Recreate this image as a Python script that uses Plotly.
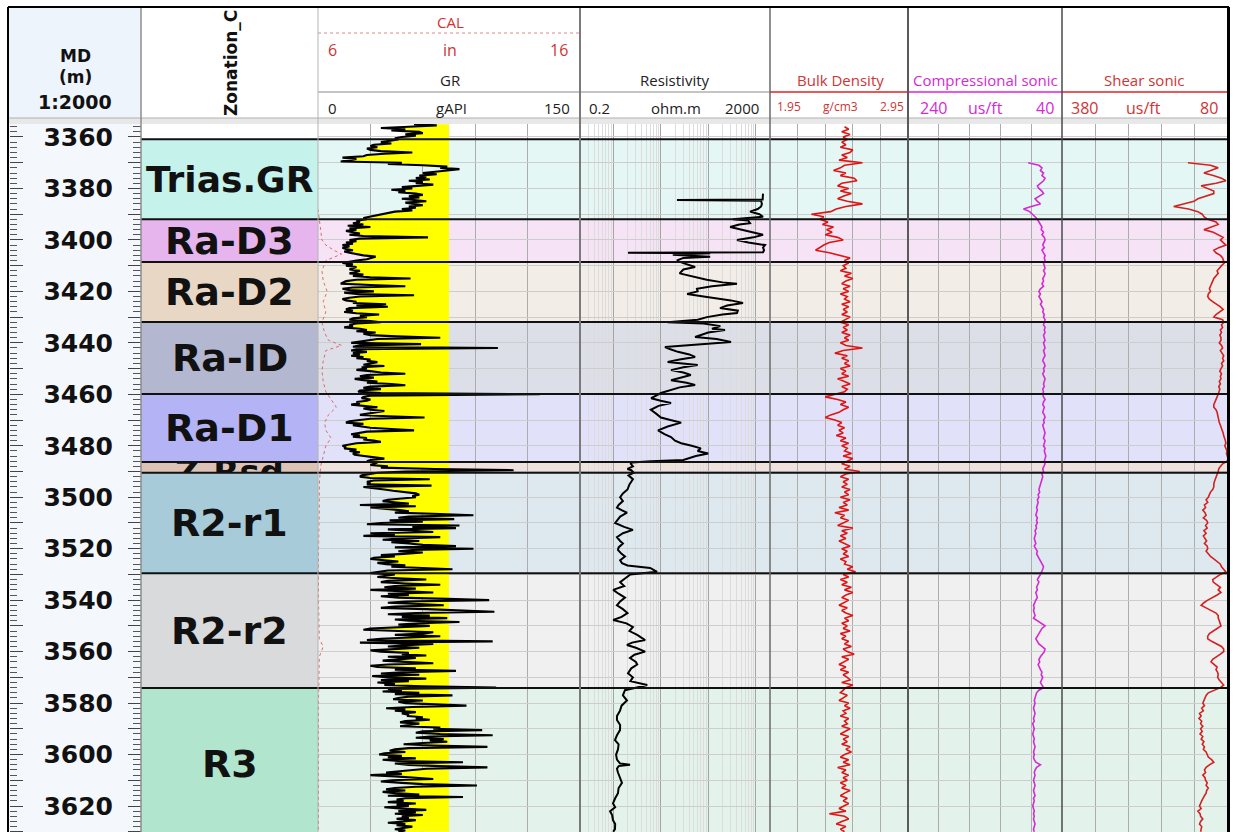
import numpy as np
import plotly.graph_objects as go

W, H = 1239, 832
def px(x): return x / W
def py(y): return 1 - y / H

# ---------------- data ----------------
DEPTH_TICKS = [3360, 3370, 3380, 3390, 3400, 3410, 3420, 3430, 3440, 3450, 3460, 3470, 3480, 3490,
               3500, 3510, 3520, 3530, 3540, 3550, 3560, 3570, 3580, 3590, 3600, 3610, 3620, 3630]
DEPTH_LABELS = ["3360", "", "3380", "", "3400", "", "3420", "", "3440", "", "3460", "", "3480", "",
                "3500", "", "3520", "", "3540", "", "3560", "", "3580", "", "3600", "", "3620", ""]

ZONE_NAMES = ["Trias.GR", "Ra-D3", "Ra-D2", "Ra-ID", "Ra-D1", "Z-Rsd", "R2-r1", "R2-r2", "R3"]
ZONE_TOPS = [3360.9, 3392.0, 3408.6, 3431.9, 3459.9, 3486.3, 3490.5, 3529.5, 3574.1]
ZONE_BASES = [3392.0, 3408.6, 3431.9, 3459.9, 3486.3, 3490.5, 3529.5, 3574.1, 3633.0]
ZONE_COLORS = ["#c6f2ec", "#e6b5ee", "#e9d7c5", "#b3b7cf", "#b3b3f5", "#ddc3b6", "#a7cbd9", "#d8dadc", "#b1e5cd"]
ZONE_TINTS = ["#e5f7f5", "#f6e3f6", "#f3ede7", "#dcdfe8", "#e1e1fa", "#efe2dc", "#dde9ef", "#f0f0f0", "#e3f3ec"]

GR_START, GR_STEP = 3355.0, 0.5
GR = [
    55, 68, 52, 36, 50, 42, 58, 60, 50, 56,
    48, 44, 46, 40, 36, 42, 32, 30, 34, 28,
    30, 36, 54, 38, 28, 26, 14, 22, 16, 13,
    48, 40, 60, 74, 70, 81, 74, 66, 60, 68,
    58, 62, 56, 64, 52, 60, 56, 66, 58, 48,
    54, 42, 50, 46, 56, 60, 52, 58, 48, 54,
    62, 50, 57, 60, 52, 56, 48, 54, 44, 40,
    36, 34, 30, 26, 28, 22, 24, 20, 26, 17,
    30, 18, 22, 16, 20, 24, 18, 26, 63, 24,
    18, 22, 16, 20, 14, 18, 14, 16, 20, 15,
    18, 22, 26, 33, 30, 28, 22, 18, 14, 20,
    16, 22, 20, 18, 24, 22, 18, 26, 20, 30,
    53, 22, 16, 14, 13, 30, 50, 20, 14, 18,
    32, 15, 22, 55, 24, 18, 14, 16, 22, 20,
    39, 22, 40, 18, 16, 20, 15, 22, 35, 24,
    28, 20, 18, 30, 36, 22, 18, 20, 15, 24,
    28, 22, 33, 26, 30, 45, 70, 34, 28, 22,
    19, 59, 24, 20, 103, 22, 19, 28, 20, 24,
    19, 26, 22, 30, 28, 34, 30, 26, 38, 25,
    28, 22, 30, 36, 50, 28, 24, 32, 21, 26,
    34, 28, 42, 50, 30, 26, 36, 24, 23, 36,
    127, 30, 26, 25, 30, 28, 22, 24, 19, 28,
    34, 26, 30, 38, 34, 28, 24, 40, 61, 30,
    22, 18, 16, 26, 20, 24, 30, 42, 55, 28,
    22, 19, 24, 20, 28, 26, 32, 36, 22, 18,
    14, 16, 15, 22, 18, 24, 20, 21, 28, 34,
    38, 30, 28, 34, 32, 30, 40, 36, 67, 112,
    50, 34, 30, 25, 24, 30, 64, 32, 28, 30,
    28, 65, 26, 34, 38, 43, 50, 56, 58, 54,
    56, 48, 40, 37, 44, 52, 24, 56, 30, 40,
    47, 52, 44, 70, 89, 52, 46, 78, 41, 60,
    36, 28, 81, 54, 79, 40, 58, 66, 30, 44,
    26, 70, 48, 37, 58, 42, 52, 60, 79, 44,
    89, 54, 46, 60, 49, 36, 44, 32, 30, 38,
    46, 34, 39, 50, 42, 60, 77, 40, 34, 30,
    44, 38, 34, 46, 62, 40, 36, 50, 70, 44,
    38, 56, 30, 48, 66, 40, 52, 36, 46, 74,
    98, 50, 40, 58, 72, 44, 36, 62, 80, 101,
    56, 40, 64, 48, 74, 44, 52, 81, 58, 46,
    64, 40, 30, 26, 48, 66, 60, 44, 70, 52,
    36, 28, 100, 24, 66, 50, 40, 58, 44, 30,
    36, 52, 48, 62, 40, 56, 46, 37, 50, 66,
    40, 30, 34, 56, 44, 79, 48, 36, 58, 31,
    40, 62, 36, 52, 34, 44, 38, 60, 102, 40,
    48, 37, 58, 44, 77, 52, 46, 43, 60, 46,
    50, 70, 85, 54, 39, 50, 44, 56, 48, 52,
    51, 60, 56, 64, 50, 47, 58, 52, 47, 70,
    66, 94, 60, 56, 70, 100, 64, 56, 72, 64,
    74, 60, 49, 66, 97, 52, 44, 41, 50, 38,
    35, 48, 40, 56, 37, 46, 83, 44, 52, 70,
    97, 62, 53, 44, 39, 48, 30, 44, 53, 66,
    42, 36, 48, 60, 91, 56, 44, 39, 50, 37,
    44, 58, 40, 83, 50, 45, 49, 40, 56, 45,
    52, 38, 48, 62, 46, 56, 44, 60, 48, 52,
    45, 56, 49, 40, 50, 45, 54, 48, 44, 50,
    46,
]
GR_CUTOFF = 75

CAL_DEPTH = [3388, 3392, 3396, 3400, 3402, 3404, 3405.5, 3408, 3412, 3416, 3420, 3424, 3428, 3432,
             3436, 3439, 3441, 3443, 3447, 3451, 3455, 3459, 3462, 3465, 3468, 3471, 3474, 3477,
             3480, 3484, 3488, 3495, 3505, 3520, 3540, 3555, 3558, 3562, 3580, 3600, 3630]
CAL = [6.0, 6.05, 6.1, 6.15, 6.3, 6.6, 6.9, 6.3, 6.15, 6.2, 6.35, 6.2, 6.3, 6.15,
       6.25, 6.4, 6.9, 6.3, 6.2, 6.15, 6.2, 6.3, 6.5, 6.7, 6.4, 6.25, 6.3, 6.5,
       6.3, 6.2, 6.1, 6.05, 6.05, 6.02, 6.02, 6.05, 6.2, 6.05, 6.02, 6.02, 6.02]

RES_DEPTH = [3382.0, 3383.0, 3384.3, 3384.5, 3384.8, 3386.0, 3387.0, 3388.0, 3389.0, 3390.0, 3391.0, 3392.0,
             3392.5, 3393.5, 3394.0, 3395.0, 3396.0, 3397.0, 3398.0, 3399.0, 3400.0, 3401.0, 3402.0, 3403.0,
             3404.0, 3404.8, 3405.0, 3405.2, 3405.8, 3406.5, 3407.0, 3408.0, 3409.0, 3410.5, 3411.5, 3413.0,
             3414.0, 3415.5, 3416.5, 3417.0, 3418.0, 3419.0, 3420.0, 3421.0, 3422.0, 3422.5, 3423.5, 3424.5,
             3425.5, 3426.5, 3427.5, 3428.4, 3429.0, 3430.0, 3431.0, 3432.0, 3432.5, 3433.5, 3434.5, 3435.0,
             3436.0, 3437.7, 3438.5, 3439.7, 3440.5, 3441.6, 3442.5, 3443.5, 3444.5, 3445.5, 3446.5, 3447.4,
             3448.6, 3449.5, 3450.6, 3451.5, 3452.5, 3453.5, 3454.5, 3455.5, 3456.4, 3457.3, 3458.3, 3459.5,
             3460.5, 3461.5, 3462.5, 3463.4, 3464.5, 3466.0, 3467.5, 3469.0, 3470.0, 3471.0, 3472.5, 3474.0,
             3475.5, 3476.6, 3478.0, 3479.0, 3480.0, 3481.0, 3482.0, 3483.0, 3484.0, 3484.8, 3485.5, 3486.0,
             3486.5, 3487.0, 3488.0, 3489.0, 3489.5, 3490.5, 3491.5, 3493.0, 3495.0, 3497.0, 3498.5, 3500.0,
             3501.5, 3503.0, 3504.0, 3505.0, 3506.0, 3507.5, 3509.0, 3510.0, 3511.5, 3512.7, 3514.0, 3515.5,
             3517.0, 3518.0, 3519.5, 3520.5, 3522.0, 3523.0, 3524.5, 3525.6, 3526.5, 3527.5, 3529.0, 3529.5,
             3530.0, 3531.5, 3533.0, 3534.5, 3536.0, 3537.5, 3539.0, 3540.5, 3542.0, 3543.5, 3545.0, 3546.5,
             3547.7, 3549.0, 3550.4, 3552.0, 3553.5, 3555.5, 3556.5, 3557.4, 3558.5, 3560.0, 3561.2, 3562.5,
             3564.0, 3565.0, 3566.5, 3568.4, 3570.0, 3571.5, 3573.0, 3574.0, 3575.0, 3577.0, 3579.0, 3581.0,
             3583.0, 3585.0, 3586.6, 3588.5, 3590.5, 3592.5, 3594.4, 3596.0, 3598.0, 3600.0, 3602.0, 3603.5,
             3604.0, 3604.5, 3605.5, 3607.0, 3609.0, 3611.0, 3613.0, 3615.0, 3617.0, 3619.0, 3620.5, 3622.0,
             3623.5, 3625.5, 3627.0, 3629.0, 3630.0]
RES = [1425, 1400, 1400, 22, 1300, 1350, 1300, 1100, 760, 1200, 1425, 330,
       700, 760, 450, 290, 500, 760, 1425, 900, 404, 700, 1571, 1425,
       1500, 1425, 2.05, 110, 18, 110, 30, 22, 30, 53, 30, 25,
       45, 93, 200, 404, 120, 58, 60, 36, 80, 126, 300, 540,
       250, 177, 420, 404, 200, 94, 60, 14, 80, 180, 120, 226,
       100, 53, 150, 302, 80, 12.3, 16, 23, 40, 53, 25, 14,
       60, 30, 16.5, 30, 43, 25, 16.5, 35, 53, 25, 16.5, 10.1,
       8, 6.3, 10, 16.5, 9, 6.2, 8, 10.1, 16, 27, 14, 8.8,
       12, 16.5, 20, 27, 45, 70, 60, 100, 55, 37.5, 30, 6.2,
       2.5, 2.35, 2.6, 2.0, 2.4, 2.7, 2.1, 2.6, 2.2, 2.0, 1.6, 1.4,
       1.6, 1.3, 1.2, 1.5, 1.95, 1.4, 1.2, 1.1, 1.7, 2.6, 1.6, 1.2,
       1.4, 1.6, 1.3, 1.26, 1.5, 1.77, 1.4, 1.53, 2.0, 6.0, 8.4, 4.0,
       2.3, 1.8, 1.4, 1.7, 1.0, 1.3, 1.77, 1.4, 1.2, 1.6, 2.0, 1.5,
       1.0, 1.9, 2.6, 2.2, 3.2, 4.7, 2.5, 1.95, 3.0, 4.7, 2.8, 2.26,
       3.0, 3.2, 2.4, 2.05, 2.6, 2.3, 5.2, 3.0, 1.77, 1.6, 1.95, 1.5,
       1.39, 1.2, 1.2, 1.4, 1.39, 1.2, 1.09, 1.3, 1.26, 1.15, 1.2, 1.4,
       2.26, 1.3, 1.2, 1.26, 1.4, 1.53, 1.3, 1.26, 1.1, 0.99, 1.1, 0.86,
       0.95, 0.99, 1.1, 1.09, 1.0]

RHOB_START, RHOB_STEP = 3356.0, 1.0
RHOB = [
    2.49, 2.52, 2.47, 2.53, 2.48, 2.51, 2.47, 2.50, 2.46, 2.55,
    2.53, 2.47, 2.51, 2.45, 2.62, 2.49, 2.46, 2.41, 2.50, 2.46,
    2.56, 2.58, 2.47, 2.44, 2.52, 2.46, 2.54, 2.48, 2.44, 2.51,
    2.62, 2.50, 2.43, 2.39, 2.25, 2.34, 2.31, 2.37, 2.33, 2.41,
    2.36, 2.40, 2.35, 2.44, 2.48, 2.38, 2.34, 2.31, 2.28, 2.38,
    2.46, 2.53, 2.49, 2.52, 2.48, 2.50, 2.46, 2.54, 2.49, 2.55,
    2.50, 2.47, 2.53, 2.48, 2.52, 2.46, 2.51, 2.49, 2.53, 2.47,
    2.52, 2.48, 2.51, 2.47, 2.53, 2.49, 2.46, 2.52, 2.48, 2.51,
    2.47, 2.53, 2.49, 2.52, 2.46, 2.50, 2.62, 2.48, 2.42, 2.51,
    2.47, 2.52, 2.49, 2.53, 2.46, 2.50, 2.47, 2.52, 2.44, 2.49,
    2.53, 2.47, 2.51, 2.49, 2.41, 2.35, 2.44, 2.50, 2.46, 2.52,
    2.48, 2.45, 2.39, 2.35, 2.42, 2.47, 2.44, 2.49, 2.45, 2.48,
    2.43, 2.50, 2.46, 2.52, 2.47, 2.51, 2.49, 2.54, 2.48, 2.55,
    2.51, 2.47, 2.53, 2.49, 2.60, 2.50, 2.46, 2.52, 2.48, 2.51,
    2.47, 2.53, 2.49, 2.52, 2.46, 2.53, 2.48, 2.51, 2.45, 2.52,
    2.42, 2.49, 2.46, 2.52, 2.48, 2.44, 2.55, 2.47, 2.51, 2.46,
    2.50, 2.45, 2.49, 2.53, 2.47, 2.51, 2.48, 2.52, 2.46, 2.50,
    2.49, 2.55, 2.51, 2.57, 2.48, 2.52, 2.46, 2.51, 2.47, 2.54,
    2.49, 2.55, 2.50, 2.47, 2.52, 2.48, 2.45, 2.51, 2.47, 2.50,
    2.55, 2.49, 2.52, 2.47, 2.51, 2.48, 2.53, 2.46, 2.50, 2.47,
    2.52, 2.49, 2.54, 2.48, 2.51, 2.56, 2.47, 2.52, 2.49, 2.45,
    2.50, 2.46, 2.52, 2.48, 2.51, 2.53, 2.47, 2.55, 2.50, 2.48,
    2.46, 2.51, 2.48, 2.45, 2.52, 2.49, 2.53, 2.48, 2.50, 2.46,
    2.52, 2.49, 2.51, 2.47, 2.53, 2.49, 2.46, 2.52, 2.48, 2.51,
    2.47, 2.53, 2.50, 2.54, 2.49, 2.46, 2.52, 2.48, 2.53, 2.44,
    2.50, 2.47, 2.52, 2.48, 2.51, 2.46, 2.50, 2.47, 2.53, 2.49,
    2.46, 2.51, 2.48, 2.52, 2.49, 2.45, 2.50, 2.38, 2.49, 2.52,
    2.47, 2.43, 2.50, 2.46, 2.49,
]

DT_START, DT_STEP = 3370.0, 1.0
DT = [
    84, 70, 66, 68, 64, 66, 62, 64, 68, 72,
    70, 66, 64, 70, 75, 72, 68, 80, 90, 82,
    78, 75, 72, 70, 68, 66, 67, 64, 66, 63,
    62, 64, 65, 63, 66, 64, 62, 63, 62, 64,
    63, 62, 64, 62, 63, 65, 64, 66, 64, 68,
    70, 68, 70, 68, 66, 68, 66, 64, 65, 63,
    64, 62, 63, 64, 62, 63, 62, 64, 63, 62,
    64, 63, 62, 64, 63, 62, 64, 65, 63, 62,
    64, 63, 65, 64, 62, 63, 64, 63, 65, 64,
    65, 64, 62, 64, 65, 63, 64, 65, 63, 62,
    64, 63, 65, 64, 63, 62, 63, 64, 62, 63,
    64, 62, 63, 62, 61, 62, 63, 62, 64, 65,
    64, 66, 65, 66, 67, 68, 68, 70, 69, 71,
    70, 72, 71, 72, 73, 72, 73, 74, 72, 73,
    72, 74, 73, 75, 74, 75, 76, 75, 74, 76,
    74, 72, 73, 71, 70, 68, 66, 64, 65, 66,
    68, 70, 72, 70, 71, 73, 72, 74, 73, 72,
    74, 75, 77, 76, 77, 76, 75, 77, 72, 68,
    62, 66, 68, 70, 72, 74, 72, 70, 66, 62,
    63, 66, 68, 70, 69, 71, 70, 68, 66, 67,
    65, 66, 68, 66, 64, 70, 73, 74, 75, 76,
    75, 76, 77, 76, 75, 76, 77, 76, 78, 77,
    76, 77, 78, 77, 76, 77, 76, 75, 76, 77,
    76, 77, 76, 74, 68, 73, 75, 76, 75, 76,
    77, 76, 75, 76, 77, 76, 75, 77, 76, 77,
    78, 77, 76, 77, 76, 77, 76, 75, 76, 77,
    76,
]

DTS_START, DTS_STEP = 3370.0, 1.0
DTS = [
    151, 110, 96, 110, 122, 105, 90, 82, 100, 127,
    115, 104, 104, 120, 133, 140, 160, 177, 150, 133,
    125, 122, 115, 100, 96, 110, 122, 105, 95, 87,
    92, 86, 82, 95, 104, 100, 92, 88, 86, 85,
    90, 94, 98, 96, 100, 104, 106, 108, 109, 112,
    110, 114, 115, 112, 106, 98, 92, 87, 94, 100,
    104, 88, 86, 90, 88, 92, 90, 93, 91, 91,
    94, 90, 88, 92, 89, 86, 88, 86, 90, 88,
    91, 93, 90, 92, 91, 94, 92, 95, 93, 94,
    96, 98, 100, 102, 104, 104, 100, 98, 97, 96,
    96, 94, 92, 90, 88, 87, 86, 84, 83, 82,
    84, 82, 80, 81, 79, 78, 80, 88, 92, 95,
    96, 98, 100, 102, 103, 104, 104, 106, 110, 112,
    114, 118, 115, 121, 119, 124, 120, 118, 123, 117,
    115, 119, 116, 122, 118, 123, 120, 117, 121, 116,
    115, 118, 114, 110, 104, 98, 92, 90, 86, 82,
    92, 100, 106, 105, 98, 92, 96, 91, 98, 108,
    115, 122, 127, 118, 108, 100, 96, 96, 94, 92,
    91, 98, 106, 112, 115, 115, 108, 98, 90, 86,
    86, 92, 100, 106, 109, 104, 98, 100, 97, 96,
    97, 94, 90, 86, 92, 104, 114, 118, 120, 122,
    124, 121, 126, 123, 130, 127, 131, 126, 128, 124,
    128, 125, 129, 124, 127, 122, 125, 121, 123, 118,
    116, 114, 108, 104, 112, 118, 121, 119, 124, 120,
    119, 116, 118, 114, 117, 118, 121, 124, 126, 128,
    130, 127, 133, 129, 128, 124, 128, 130, 126, 127,
    128,
]

GR_GRID = [30, 60, 90, 120]
RES_MAJOR = [1, 10, 100, 1000]
RES_MINOR = [0.3, 0.4, 0.5, 0.6, 0.7, 0.8, 0.9, 2, 3, 4, 5, 6, 7, 8, 9,
             20, 30, 40, 50, 60, 70, 80, 90, 200, 300, 400, 500, 600, 700, 800, 900]
RHOB_GRID = [2.15, 2.35, 2.55, 2.75]
DT_GRID = [200, 160, 120, 80]
DTS_GRID = [320, 260, 200, 140]

# ---------------- figure ----------------
Y_TOP, Y_BOT = 3354.95, 3630.1
gr_depth = GR_START + GR_STEP * np.arange(len(GR))
rhob_depth = RHOB_START + RHOB_STEP * np.arange(len(RHOB))
dt_depth = DT_START + DT_STEP * np.arange(len(DT))
dts_depth = DTS_START + DTS_STEP * np.arange(len(DTS))

RED = "#e01414"
MAG = "#d42ad4"
HRED = "#cf3434"

fig = go.Figure()

# GR sand fill (yellow) between curve and cutoff
fig.add_trace(go.Scatter(x=[GR_CUTOFF, GR_CUTOFF], y=[gr_depth[0], gr_depth[-1]], xaxis="x2", yaxis="y",
                         mode="lines", line=dict(width=0, color="rgba(0,0,0,0)"), hoverinfo="skip", showlegend=False))
fig.add_trace(go.Scatter(x=np.minimum(np.array(GR, float), GR_CUTOFF), y=gr_depth, xaxis="x2", yaxis="y",
                         mode="lines", line=dict(width=0, color="rgba(0,0,0,0)"), fill="tonextx",
                         fillcolor="#ffff00", hoverinfo="skip", showlegend=False))
fig.add_trace(go.Scatter(x=GR, y=gr_depth, xaxis="x2", yaxis="y", mode="lines",
                         line=dict(color="#000000", width=2.1), showlegend=False))
fig.add_trace(go.Scatter(x=CAL, y=CAL_DEPTH, xaxis="x3", yaxis="y", mode="lines",
                         line=dict(color="#e06a6a", width=1, dash="dot"), showlegend=False))
fig.add_trace(go.Scatter(x=RES, y=RES_DEPTH, xaxis="x4", yaxis="y", mode="lines",
                         line=dict(color="#000000", width=2), showlegend=False))
fig.add_trace(go.Scatter(x=RHOB, y=rhob_depth, xaxis="x5", yaxis="y", mode="lines",
                         line=dict(color=RED, width=1.6), showlegend=False))
fig.add_trace(go.Scatter(x=DT, y=dt_depth, xaxis="x6", yaxis="y", mode="lines",
                         line=dict(color=MAG, width=1.6), showlegend=False))
fig.add_trace(go.Scatter(x=DTS, y=dts_depth, xaxis="x7", yaxis="y", mode="lines",
                         line=dict(color="#d42020", width=1.6), showlegend=False))
# thin zone label: only the top of its glyphs shows inside the thin zone
thin = ZONE_NAMES.index("Z-Rsd")
fig.add_trace(go.Scatter(x=[0.5], y=[ZONE_BASES[thin] + 1.2], xaxis="x", yaxis="y",
                         mode="text", text=["<b>" + ZONE_NAMES[thin] + "</b>"],
                         textfont=dict(family="DejaVu Sans", size=34, color="#111"), showlegend=False,
                         hoverinfo="skip"))
# dummy trace for left tick axis
fig.add_trace(go.Scatter(x=[0.5], y=[3400], xaxis="x", yaxis="y2", mode="markers",
                         marker=dict(opacity=0), showlegend=False, hoverinfo="skip"))

shapes = []
def prect(x0, y0, x1, y1, fill, layer="below", line=None):
    shapes.append(dict(type="rect", xref="paper", yref="paper", x0=px(x0), x1=px(x1), y0=py(y0), y1=py(y1),
                       fillcolor=fill, line=line or dict(width=0), layer=layer))
def pline(x0, y0, x1, y1, color, width=1, dash="solid", layer="above"):
    shapes.append(dict(type="line", xref="paper", yref="paper", x0=px(x0), x1=px(x1), y0=py(y0), y1=py(y1),
                       line=dict(color=color, width=width, dash=dash), layer=layer))

# backgrounds
prect(8, 7, 141, 118, "#eef4fc")
prect(8, 124, 141, 840, "#f4f8fd")
prect(8, 118, 1229, 124, "#e8e8e8")

# zone tints across curve tracks
for t, b, c in zip(ZONE_TOPS, ZONE_BASES, ZONE_TINTS):
    shapes.append(dict(type="rect", xref="paper", yref="y", x0=px(318), x1=px(1227), y0=t, y1=b,
                       fillcolor=c, line=dict(width=0), layer="below"))
# white area above first zone in zonation track
shapes.append(dict(type="rect", xref="x", yref="y", x0=0, x1=1, y0=Y_TOP - 1, y1=ZONE_TOPS[0],
                   fillcolor="#ffffff", line=dict(width=0), layer="between"))
# zonation blocks
for i, (t, b, c) in enumerate(zip(ZONE_TOPS, ZONE_BASES, ZONE_COLORS)):
    shapes.append(dict(type="rect", xref="x", yref="y", x0=0, x1=1, y0=t, y1=b, fillcolor=c,
                       line=dict(width=0), layer="between" if i == thin else "above"))
# zone boundaries
for t in ZONE_TOPS:
    shapes.append(dict(type="line", xref="paper", yref="y", x0=px(141), x1=px(1227), y0=t, y1=t,
                       line=dict(color="#111111", width=2), layer="above"))

# header lines
pline(318, 33, 580, 33, "#d98a8a", 1, "dot")
pline(318, 92, 770, 92, "#8a8a8a", 1)
pline(770, 92, 908, 92, "#e02020", 1.5)
pline(908, 92, 1062, 92, "#e020e0", 1.5)
pline(1062, 92, 1227, 92, "#e02020", 1.5)
pline(8, 118, 1229, 118, "#b0b0b0", 1)

# track separators
for x, col, w in [(141, "#8c8c8c", 1.5), (318, "#b4b4b4", 1), (580, "#7a7a7a", 2), (770, "#6a6a6a", 1.5),
                  (908, "#5a5a5a", 2), (1062, "#4a4a4a", 1.5)]:
    pline(x, 7, x, 840, col, w)
# outer frame
pline(8, 7, 1229, 7, "#000000", 2)
pline(8, 7, 8, 840, "#000000", 2)
pline(1228.5, 7, 1228.5, 840, "#000000", 3)

annotations = []
def ptext(s, x, y, color="#222", size=15, family="Open Sans", bold=False, angle=0):
    annotations.append(dict(text=("<b>%s</b>" % s) if bold else s, x=px(x), y=py(y), xref="paper", yref="paper",
                            showarrow=False, xanchor="center", yanchor="middle", textangle=angle,
                            font=dict(color=color, size=size, family=family)))

ptext("MD", 75, 56, "#111", 17, "DejaVu Sans", True)
ptext("(m)", 75, 77, "#111", 17, "DejaVu Sans", True)
ptext("1:2000", 75, 102, "#111", 19, "DejaVu Sans", True)
ptext("Zonation_C", 231, 63, "#111", 17, "DejaVu Sans", True, -90)

ptext("CAL", 450, 22, HRED)
ptext("6", 332, 50, HRED, 16)
ptext("in", 450, 50, HRED, 16)
ptext("16", 559, 50, HRED, 16)
ptext("GR", 450, 80)
ptext("0", 332, 108, "#222", 15)
ptext("gAPI", 451, 108, "#222", 15)
ptext("150", 557, 108, "#222", 15)
ptext("Resistivity", 675, 80)
ptext("0.2", 599, 108, "#222", 15)
ptext("ohm.m", 676, 108, "#222", 15)
ptext("2000", 742, 108, "#222", 15)
ptext("Bulk Density", 840, 80, HRED)
ptext("1.95", 789, 106, HRED, 12)
ptext("g/cm3", 840, 106, HRED, 12)
ptext("2.95", 892, 106, HRED, 12)
ptext("Compressional sonic", 985, 80, MAG, 15)
ptext("240", 933, 108, MAG, 16)
ptext("us/ft", 985, 108, MAG, 16)
ptext("40", 1045, 108, MAG, 16)
ptext("Shear sonic", 1144, 80, HRED)
ptext("380", 1084, 108, HRED, 16)
ptext("us/ft", 1143, 108, HRED, 16)
ptext("80", 1209, 108, HRED, 16)

# zone labels
for i, (n, t, b) in enumerate(zip(ZONE_NAMES, ZONE_TOPS, ZONE_BASES)):
    if i == thin:
        continue
    annotations.append(dict(text="<b>%s</b>" % n, x=0.5, y=(t + b) / 2, xref="x", yref="y", showarrow=False,
                            xanchor="center", yanchor="middle",
                            font=dict(family="DejaVu Sans", size=36 if n == "Trias.GR" else 38, color="#111")))

def xa(d0, d1, **kw):
    base = dict(domain=[px(d0), px(d1)], anchor="y", showticklabels=False, ticks="", zeroline=False,
                showline=False, fixedrange=True, showgrid=True, gridcolor="#acacac", gridwidth=1)
    base.update(kw)
    return base

fig.update_layout(
    width=W, height=H, margin=dict(l=0, r=0, t=0, b=0), autosize=False,
    paper_bgcolor="#ffffff", plot_bgcolor="rgba(0,0,0,0)", showlegend=False,
    xaxis=xa(141, 318, range=[0, 1], showgrid=False),
    xaxis2=xa(318, 580, range=[0, 150], tickmode="array", tickvals=GR_GRID),
    xaxis3=dict(overlaying="x2", anchor="y", range=[6, 16], visible=False, fixedrange=True),
    xaxis4=xa(580, 770, type="log", range=[np.log10(0.2), np.log10(2000)], tickmode="array",
              tickvals=RES_MAJOR, gridcolor="#a4a4a4",
              minor=dict(tickmode="array", tickvals=RES_MINOR, showgrid=True, gridcolor="#dcdcdc",
                         gridwidth=1, ticks="")),
    xaxis5=xa(770, 908, range=[1.95, 2.95], tickmode="array", tickvals=RHOB_GRID),
    xaxis6=xa(908, 1062, range=[240, 40], tickmode="array", tickvals=DT_GRID),
    xaxis7=xa(1062, 1227, range=[380, 80], tickmode="array", tickvals=DTS_GRID),
    yaxis=dict(domain=[0, py(124)], range=[Y_BOT, Y_TOP], anchor="free", position=px(141), side="left",
               tickmode="array", tickvals=DEPTH_TICKS, ticktext=DEPTH_LABELS, ticks="outside",
               ticklen=13, tickwidth=1, tickcolor="#444", ticklabelstandoff=10,
               tickfont=dict(family="DejaVu Sans", size=25, color="#111", weight="bold"),
               showgrid=True, gridcolor="#cdcdcd", gridwidth=1, zeroline=False, showline=False,
               fixedrange=True,
               minor=dict(ticks="outside", ticklen=8, tickmode="linear", tick0=3360, dtick=2,
                          tickcolor="#555", tickwidth=1, showgrid=False)),
    yaxis2=dict(overlaying="y", matches="y", anchor="free", position=px(9), side="right",
                tickmode="array", tickvals=DEPTH_TICKS, showticklabels=False, ticks="outside",
                ticklen=13, tickwidth=1, tickcolor="#444", showgrid=False, zeroline=False, showline=False,
                fixedrange=True,
                minor=dict(ticks="outside", ticklen=7, tickmode="linear", tick0=3360, dtick=2,
                           tickcolor="#555", tickwidth=1, showgrid=False)),
    shapes=shapes, annotations=annotations,
)

fig.write_html("out.html")
